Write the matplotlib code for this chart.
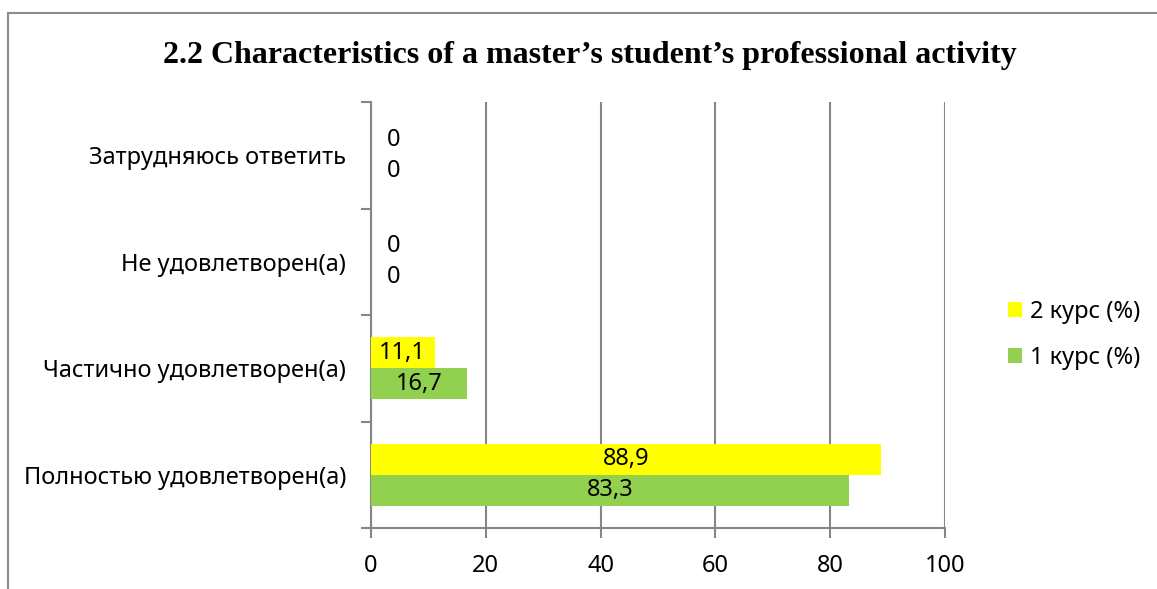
import numpy as np
import matplotlib.pyplot as plt
from matplotlib.lines import Line2D

categories = [
    "Полностью удовлетворен(а)",
    "Частично удовлетворен(а)",
    "Не удовлетворен(а)",
    "Затрудняюсь ответить",
]
course1 = [83.3, 16.7, 0, 0]
course2 = [88.9, 11.1, 0, 0]
series_names = ["1 курс (%)", "2 курс (%)"]
xticks = [0, 20, 40, 60, 80, 100]

title = "2.2 Characteristics of a master’s student’s professional activity"

GREEN = "#92D050"
YELLOW = "#FFFF00"
GRID = "#868686"
FONT = ["Noto Sans", "DejaVu Sans"]
FS = 17

fig = plt.figure(figsize=(11.57, 5.89), dpi=100)
ax = fig.add_axes([371 / 1157, 1 - 528 / 589, (945 - 371) / 1157, (528 - 102) / 589])

y = np.arange(len(categories))
h = 0.29
bars1 = ax.barh(y - h / 2, course1, height=h, color=GREEN, label=series_names[0], zorder=3)
bars2 = ax.barh(y + h / 2, course2, height=h, color=YELLOW, label=series_names[1], zorder=3)


def fmt(v):
    return f"{v:g}".replace(".", ",")


for bars, vals in ((bars1, course1), (bars2, course2)):
    for b, v in zip(bars, vals):
        cy = b.get_y() + b.get_height() / 2
        if v > 0:
            ax.annotate(fmt(v), (v / 2, cy), ha="center", va="center",
                        fontsize=FS, family=FONT, zorder=4)
        else:
            ax.annotate(fmt(v), (0, cy), xytext=(16, 0), textcoords="offset points",
                        ha="center", va="center", fontsize=FS, family=FONT, zorder=4)

ax.set_xlim(0, 100)
ax.set_ylim(-0.5, len(categories) - 0.5)
ax.set_xticks(xticks)
ax.set_xticklabels([str(t) for t in xticks], family=FONT, fontsize=FS)
ax.xaxis.grid(True, color=GRID, linewidth=1.5, zorder=0)
ax.tick_params(axis="x", length=7, width=1.5, color=GRID, pad=12)

# category labels centred, tick marks on category boundaries
ax.set_yticks(y)
ax.set_yticklabels(categories, family=FONT, fontsize=FS)
ax.tick_params(axis="y", which="major", length=0, pad=18)
ax.set_yticks(np.arange(-0.5, len(categories)), minor=True)
ax.tick_params(axis="y", which="minor", length=7, width=1.5, color=GRID)

for side in ("top", "right"):
    ax.spines[side].set_visible(False)
for side in ("left", "bottom"):
    ax.spines[side].set_color(GRID)
    ax.spines[side].set_linewidth(1.5)

handles, labels = ax.get_legend_handles_labels()
leg = fig.legend(handles[::-1], labels[::-1], loc="center left",
                 bbox_to_anchor=(1008 / 1157, 1 - 335 / 589), frameon=False,
                 prop={"family": FONT, "size": FS}, handlelength=0.6, handleheight=0.6,
                 handletextpad=0.35, labelspacing=0.95, borderpad=0, borderaxespad=0)

fig.text(590 / 1157, 1 - 56 / 589, title, ha="center", va="center",
         fontsize=23, fontweight="bold", family="Liberation Serif")

# chart area border (cut at right and bottom)
fig.add_artist(Line2D([8 / 1157, 8 / 1157], [0, 1 - 13 / 589], transform=fig.transFigure,
                      color="#8c8c8c", linewidth=1.5))
fig.add_artist(Line2D([8 / 1157, 1], [1 - 13 / 589, 1 - 13 / 589], transform=fig.transFigure,
                      color="#8c8c8c", linewidth=1.5))

fig.savefig("out.png", dpi=100)
